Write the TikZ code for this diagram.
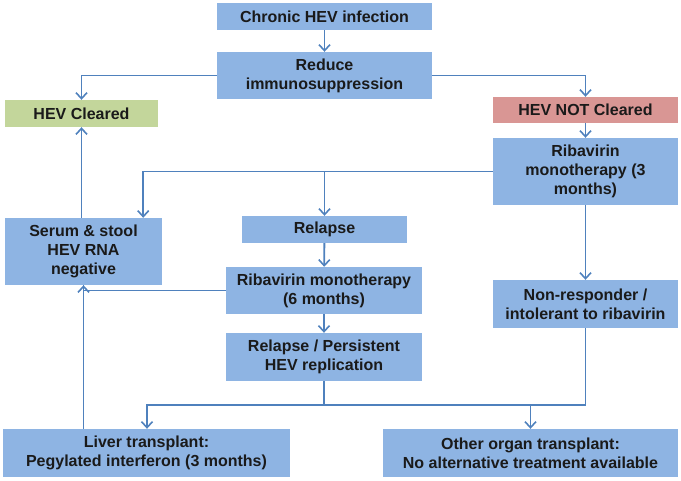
\documentclass[tikz,border=0pt]{standalone}
\usepackage{fontspec}
\setmainfont{Liberation Sans}
\usetikzlibrary{arrows.meta}
\definecolor{boxblue}{HTML}{8EB4E3}
\definecolor{boxgreen}{HTML}{C3D69B}
\definecolor{boxred}{HTML}{D99694}
\definecolor{linkblue}{HTML}{4F81BD}
\definecolor{txt}{HTML}{1A1A1A}
\begin{document}
\begin{tikzpicture}[x=1pt,y=-1pt,
  box/.style={fill=boxblue,inner sep=0pt,align=center,text=txt,
    font=\fontsize{16}{19}\selectfont\bfseries},
  link/.style={draw=linkblue,line width=1.8pt},
  arr/.style={link,-{Straight Barb[length=6pt,width=11pt,line width=1.6pt]}}]
\useasboundingbox (0,0) rectangle (681,480);
\node[box,minimum width=215pt,minimum height=27pt] (chronic) at (324.5,16.5) {Chronic HEV infection};
\node[box,minimum width=215pt,minimum height=47pt] (reduce) at (324.5,75.5) {Reduce\\immunosuppression};
\node[box,fill=boxgreen,minimum width=153pt,minimum height=27pt] (cleared) at (81.5,113.5) {HEV Cleared};
\node[box,fill=boxred,minimum width=185pt,minimum height=26pt] (notcleared) at (585.5,110) {HEV NOT Cleared};
\node[box,minimum width=185pt,minimum height=67pt] (riba3) at (585.5,171.5) {Ribavirin\\monotherapy (3\\months)};
\node[box,minimum width=157pt,minimum height=67pt] (serum) at (83.5,251.5) {Serum \& stool\\HEV RNA\\negative};
\node[box,minimum width=165pt,minimum height=27pt] (relapse) at (324.5,229.5) {Relapse};
\node[box,minimum width=196pt,minimum height=47pt] (riba6) at (324,290.5) {Ribavirin monotherapy\\(6 months)};
\node[box,minimum width=196pt,minimum height=48pt] (persist) at (324,357) {Relapse / Persistent\\HEV replication};
\node[box,minimum width=185pt,minimum height=48pt] (nonresp) at (585.5,304) {Non-responder /\\intolerant to ribavirin};
\node[box,minimum width=287pt,minimum height=48pt] (liver) at (146.5,453) {Liver transplant:\\Pegylated interferon (3 months)};
\node[box,minimum width=295pt,minimum height=48pt] (other) at (530.5,453) {Other organ transplant:\\No alternative treatment available};
\coordinate (split) at (324,405);
\draw[arr] (chronic) -- (reduce);
\draw[arr] (reduce.west) -| (cleared.north);
\draw[arr] (reduce.east) -| (notcleared.north);
\draw[arr] (notcleared) -- (riba3);
\draw[arr] (riba3.west) -| ([xshift=-19pt]serum.north east);
\draw[arr] (riba3.west -| relapse.north) -- (relapse.north);
\draw[arr] (relapse) -- (riba6);
\draw[arr] (riba6) -- (persist);
\draw[arr] (riba3) -- (nonresp);
\draw[arr] (serum.north -| cleared.south) -- (cleared.south);
\draw[link] (riba6.west) -| (serum.south);
\draw[arr] (liver.north -| serum.south) -- (serum.south);
\draw[link] (persist.south) -- (split);
\draw[arr] (split) -| ([xshift=0.5pt]liver.north);
\draw[arr] (split) -| (other.north);
\draw[link] (nonresp.south) |- (split -| other.north);
\end{tikzpicture}
\end{document}
